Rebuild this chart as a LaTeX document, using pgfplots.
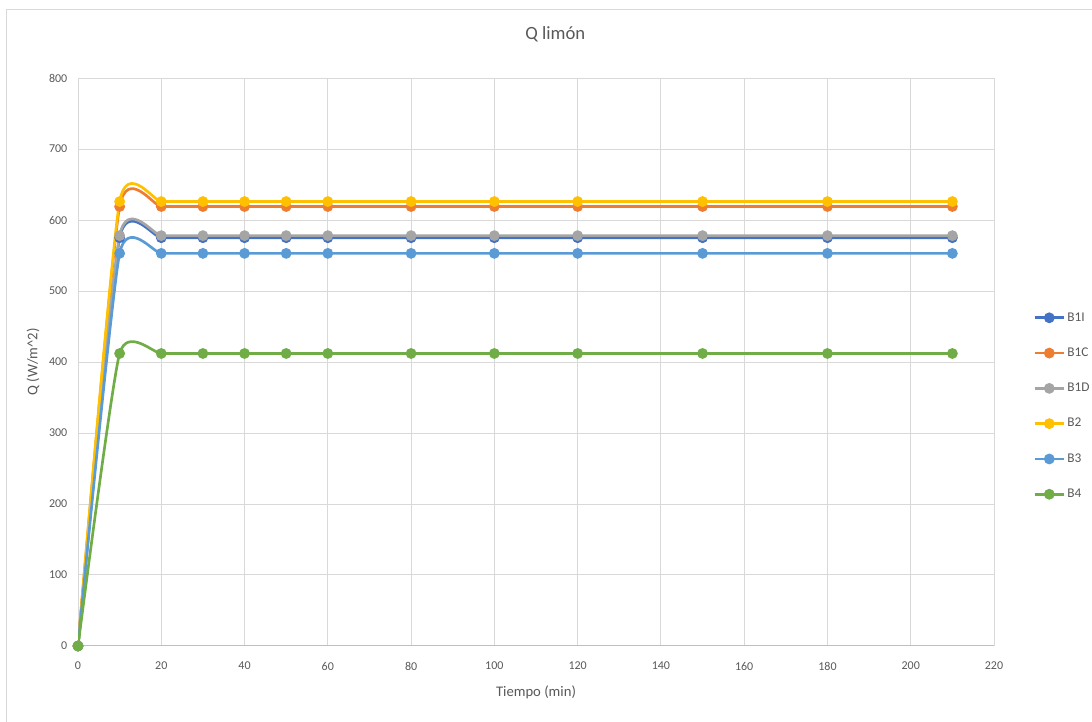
\documentclass[border=0pt]{standalone}
\usepackage{pgfplots}
\pgfplotsset{compat=1.18}
\usepackage{fontspec}
\setmainfont{Carlito}
\definecolor{txt}{HTML}{595959}
\definecolor{gridc}{HTML}{D9D9D9}
\definecolor{axc}{HTML}{BFBFBF}
\definecolor{cBI}{HTML}{4472C4}
\definecolor{cBC}{HTML}{ED7D31}
\definecolor{cBD}{HTML}{A5A5A5}
\definecolor{cBii}{HTML}{FFC000}
\definecolor{cBiii}{HTML}{5B9BD5}
\definecolor{cBiv}{HTML}{70AD47}
\begin{document}
\begin{tikzpicture}
\useasboundingbox (0,0) rectangle (819pt,540.75pt);
\draw[color=gridc, line width=0.75pt] (4.5pt,-10pt) rectangle (830pt,533.25pt);
\begin{axis}[
  at={(58.5pt,56.25pt)}, anchor=south west,
  scale only axis, width=687pt, height=426pt,
  xmin=0, xmax=220, ymin=0, ymax=800,
  xtick={0,20,...,220}, ytick={0,100,...,800},
  grid=major, grid style={color=gridc, line width=0.75pt},
  axis lines*=left, axis line style={-},
  y axis line style={draw=none},
  x axis line style={color=axc, line width=0.75pt},
  major tick length=0pt,
  /pgf/number format/assume math mode=true,
  tick label style={font=\fontsize{9}{11}\selectfont, color=txt},
  xticklabel style={anchor=center, yshift=-15pt},
  yticklabel style={anchor=east, xshift=-4.5pt},
  title={Q limón},
  title style={font=\fontsize{14}{16}\selectfont, color=txt, at={(axis description cs:0.521,1)}, anchor=center, yshift=27pt},
  xlabel={Tiempo (min)},
  xlabel style={font=\fontsize{11}{13}\selectfont, color=txt, at={(axis description cs:0.5,0)}, anchor=center, yshift=-34.5pt},
  ylabel={Q (W/m\textasciicircum 2)},
  ylabel style={font=\fontsize{11}{13}\selectfont, color=txt, at={(axis description cs:-0.049,0.5)}, anchor=center},
  legend style={at={(axis description cs:1.0426,0.4225)}, anchor=west, draw=none, fill=none,
    font=\fontsize{10}{12}\selectfont, text=txt, inner sep=0pt, row sep=15.5pt,
    nodes={inner sep=1.5pt}},
  legend cell align=left,
  legend image code/.code={\draw[mark repeat=2,mark phase=2,#1] plot coordinates {(0pt,0pt) (11pt,0pt) (22pt,0pt)};},
  every axis plot/.append style={line width=2pt, smooth, tension=0.33, mark=*, mark size=3pt},
]
% B1I
\addplot[color=cBI] coordinates {(0,0) (10,575) (20,575) (30,575) (40,575) (50,575) (60,575) (80,575) (100,575) (120,575) (150,575) (180,575) (210,575)};
\addlegendentry{B1I}
% B1C
\addplot[color=cBC] coordinates {(0,0) (10,619) (20,619) (30,619) (40,619) (50,619) (60,619) (80,619) (100,619) (120,619) (150,619) (180,619) (210,619)};
\addlegendentry{B1C}
% B1D
\addplot[color=cBD] coordinates {(0,0) (10,578) (20,578) (30,578) (40,578) (50,578) (60,578) (80,578) (100,578) (120,578) (150,578) (180,578) (210,578)};
\addlegendentry{B1D}
% B2
\addplot[color=cBii] coordinates {(0,0) (10,626) (20,626) (30,626) (40,626) (50,626) (60,626) (80,626) (100,626) (120,626) (150,626) (180,626) (210,626)};
\addlegendentry{B2}
% B3
\addplot[color=cBiii] coordinates {(0,0) (10,553) (20,553) (30,553) (40,553) (50,553) (60,553) (80,553) (100,553) (120,553) (150,553) (180,553) (210,553)};
\addlegendentry{B3}
% B4
\addplot[color=cBiv] coordinates {(0,0) (10,412) (20,412) (30,412) (40,412) (50,412) (60,412) (80,412) (100,412) (120,412) (150,412) (180,412) (210,412)};
\addlegendentry{B4}
\end{axis}
\end{tikzpicture}
\end{document}
